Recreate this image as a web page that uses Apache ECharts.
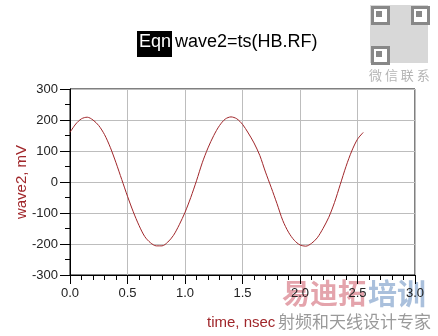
<!DOCTYPE html>
<html><head><meta charset="utf-8">
<script src="https://cdn.jsdelivr.net/npm/echarts@6/dist/echarts.min.js"></script>
<style>html,body{margin:0;padding:0;background:#fff}#c{width:438px;height:336px}</style>
</head><body><div id="c"></div>
<script>
const timeNs = [0,0.05,0.10,0.15,0.20,0.25,0.30,0.35,0.40,0.45,0.50,0.55,0.60,0.65,0.70,0.75,0.80,0.85,0.90,0.95,1.00,1.05,1.10,1.15,1.20,1.25,1.30,1.35,1.40,1.45,1.50,1.55,1.60,1.65,1.70,1.75,1.80,1.85,1.90,1.95,2.00,2.05,2.10,2.15,2.20,2.25,2.30,2.35,2.40,2.45,2.50,2.55];
const wave2mV = [160,187,204,209,200,182,153,112,62,8,-46,-96,-140,-176,-196,-206,-206,-194,-172,-138,-98,-50,4,62,110,150,182,203,210,204,186,158,126,86,32,-18,-70,-124,-162,-188,-203,-207,-198,-180,-150,-114,-66,-8,50,100,138,160];
const xTicks = {min:0, max:3, step:0.5};
const yTicks = {min:-300, max:300, step:100};
const titleTag = 'Eqn';
const titleText = 'wave2=ts(HB.RF)';
const xName = 'time, nsec';
const yName = 'wave2, mV';

const F = 'Arial, "Liberation Sans", sans-serif';
const red = '#A0262A';
const chart = echarts.init(document.getElementById('c'), null, {renderer:'canvas'});
chart.setOption({
  animation:false,
  grid:{left:70,right:23,top:89,bottom:61,show:true,borderColor:'#000',borderWidth:1,backgroundColor:'transparent'},
  xAxis:{type:'value',min:xTicks.min,max:xTicks.max,interval:xTicks.step,
    axisLine:{show:true,onZero:false,lineStyle:{color:'#000',width:1}},
    axisTick:{show:true,length:9,lineStyle:{color:'#000'}},
    minorTick:{show:true,splitNumber:5,length:5,lineStyle:{color:'#000'}},
    splitLine:{show:true,lineStyle:{color:'#bdbdbd',width:1}},
    axisLabel:{margin:12,color:'#222',fontFamily:F,fontSize:13,formatter:v=>v.toFixed(1)}},
  yAxis:{type:'value',min:yTicks.min,max:yTicks.max,interval:yTicks.step,
    axisLine:{show:true,lineStyle:{color:'#000',width:1}},
    axisTick:{show:true,length:10,lineStyle:{color:'#000'}},
    minorTick:{show:true,splitNumber:2,length:5,lineStyle:{color:'#000'}},
    splitLine:{show:true,lineStyle:{color:'#bdbdbd',width:1}},
    axisLabel:{margin:12,color:'#222',fontFamily:F,fontSize:13}},
  series:[{type:'line',data:timeNs.map((t,i)=>[t,wave2mV[i]]),showSymbol:false,smooth:0.3,
    lineStyle:{color:red,width:1},z:5}],
  graphic:[
    {type:'rect',left:370,top:5,shape:{width:58,height:58},style:{fill:'#d8d8d8'},z:-20},
    {type:'rect',left:371,top:6,shape:{width:16,height:16},style:{fill:'#fff',stroke:'#888',lineWidth:3},z:-19},
    {type:'rect',left:411,top:6,shape:{width:16,height:16},style:{fill:'#fff',stroke:'#888',lineWidth:3},z:-19},
    {type:'rect',left:371,top:46,shape:{width:16,height:16},style:{fill:'#fff',stroke:'#888',lineWidth:3},z:-19},
    {type:'rect',left:376,top:11,shape:{width:6,height:6},style:{fill:'#888'},z:-18},
    {type:'rect',left:416,top:11,shape:{width:6,height:6},style:{fill:'#888'},z:-18},
    {type:'rect',left:376,top:51,shape:{width:6,height:6},style:{fill:'#888'},z:-18},
    {type:'text',left:369,top:69,style:{text:'微 信 联 系',fill:'#b5b5b5',font:'13px "Noto Sans CJK SC"'}},
    {type:'rect',left:137,top:31,shape:{width:35,height:26},style:{fill:'#000'}},
    {type:'text',left:139,top:33,style:{text:titleTag,fill:'#fff',font:'18px '+F}},
    {type:'text',left:175,top:33,style:{text:titleText,fill:'#000',font:'18px '+F}},
    {type:'text',left:282,top:279,style:{text:'易迪拓',fill:'#E4A4AC',font:'bold 28px "Noto Sans CJK SC"'},z:-10},
    {type:'text',left:368,top:279,style:{text:'培训',fill:'#AAC0DC',font:'bold 29px "Noto Sans CJK SC"'},z:-10},
    {type:'text',left:207,top:315,style:{text:xName,fill:red,font:'15px '+F}},
    {type:'text',left:278,top:313,style:{text:'射频和天线设计专家',fill:'#9a9a9a',font:'17px "Noto Sans CJK SC"'}},
    {type:'text',x:22,y:182,rotation:Math.PI/2,style:{text:yName,fill:red,font:'15px '+F,align:'center',verticalAlign:'middle'}}
  ]
});
</script></body></html>
